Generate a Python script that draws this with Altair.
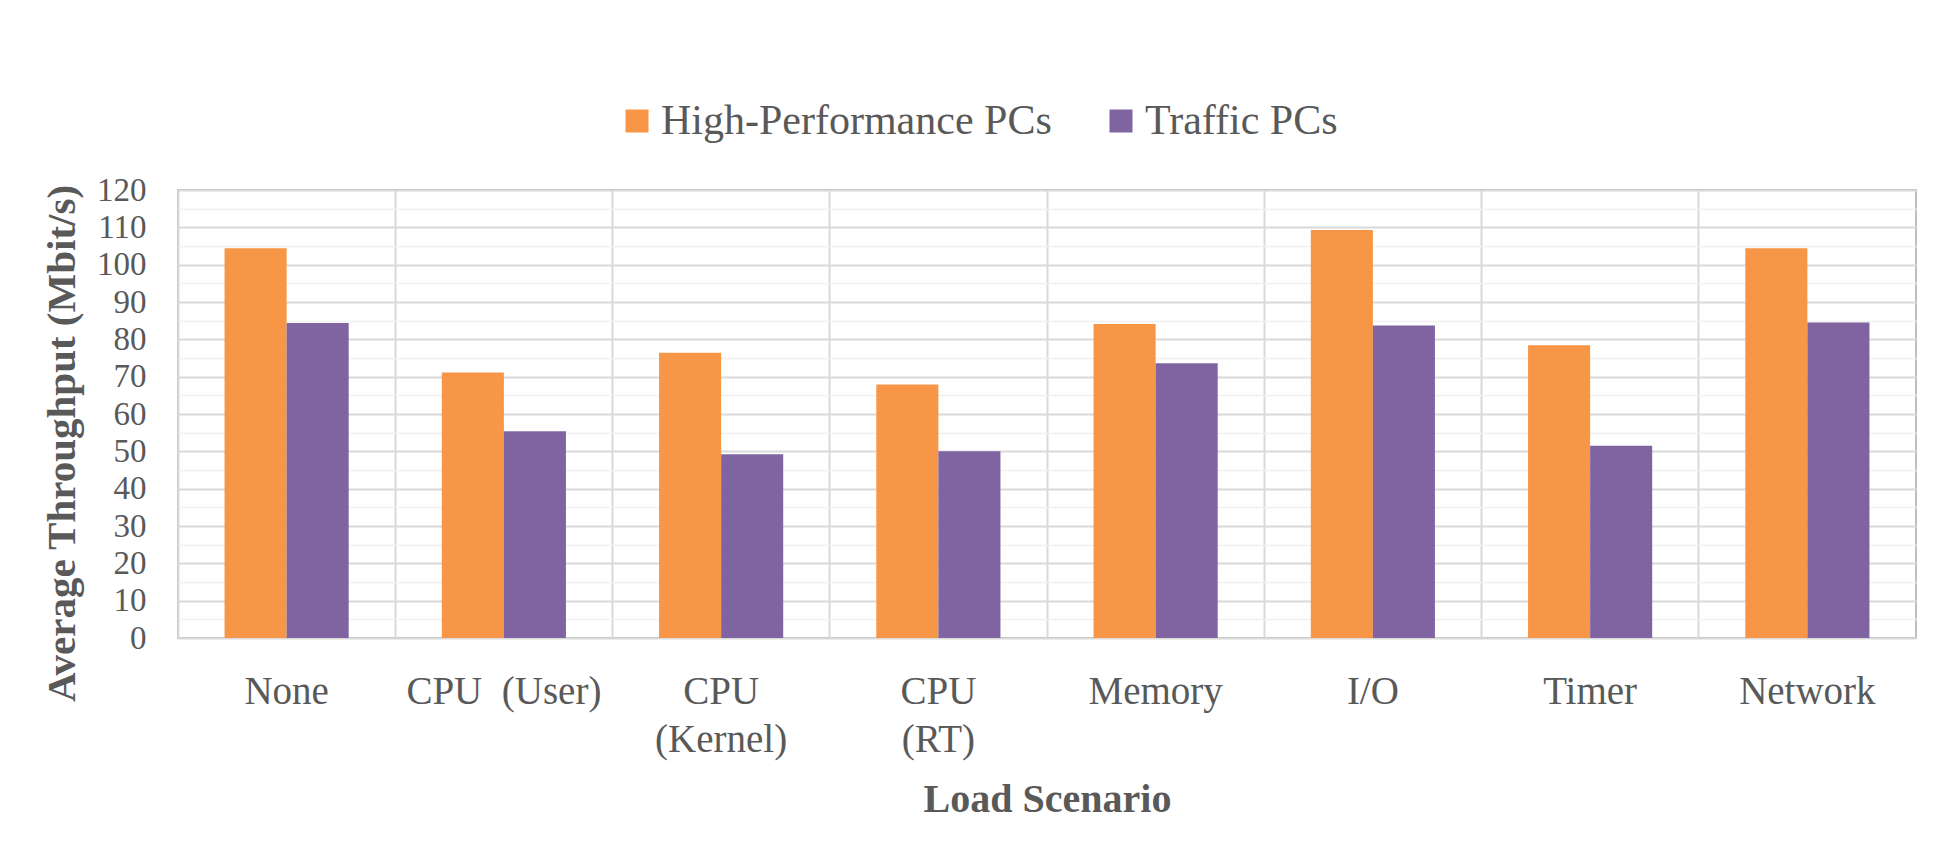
import altair as alt
import pandas as pd

scenarios = ["None", "CPU\u00a0 (User)", "CPU\n(Kernel)", "CPU\n(RT)", "Memory", "I/O", "Timer", "Network"]
hp_values = [104.4, 71.1, 76.4, 67.9, 84.1, 109.3, 78.4, 104.4]
traffic_values = [84.4, 55.4, 49.2, 50.0, 73.6, 83.7, 51.5, 84.5]
series_names = ["High-Performance PCs", "Traffic PCs"]
series_colors = ["#F79646", "#8064A2"]
y_tick_values = list(range(0, 121, 5))

rows = []
for s, a, b in zip(scenarios, hp_values, traffic_values):
    rows.append({"Scenario": s, "Series": series_names[0], "Value": a})
    rows.append({"Scenario": s, "Series": series_names[1], "Value": b})
df = pd.DataFrame(rows)

FONT = "'Liberation Serif', 'Times New Roman', Times, 'DejaVu Serif', serif"
TXT = "#595959"

chart = alt.Chart(df).mark_bar().encode(
    x=alt.X(
        "Scenario:N",
        sort=scenarios,
        scale=alt.Scale(paddingInner=0, paddingOuter=0),
        axis=alt.Axis(
            title="Load Scenario",
            labelAngle=0,
            labelExpr="split(datum.label, '\\n')",
            labelFont=FONT, labelFontSize=39, labelColor=TXT,
            labelLineHeight=48, labelPadding=34, labelLimit=1000,
            titleFont=FONT, titleFontSize=40, titleFontWeight="bold", titleColor=TXT,
            titlePadding=20,
            grid=True, bandPosition=0, gridColor="#d9d9d9", gridWidth=2,
            domain=False, ticks=False, tickSize=0,
        ),
    ),
    xOffset=alt.XOffset(
        "Series:N", sort=series_names,
        scale=alt.Scale(paddingInner=0, paddingOuter=0.75),
    ),
    y=alt.Y(
        "Value:Q",
        scale=alt.Scale(domain=[0, 120], nice=False),
        axis=alt.Axis(
            title="Average Throughput (Mbit/s)",
            values=y_tick_values,
            labelExpr="datum.value % 10 === 0 ? datum.label : ''",
            labelOverlap=False,
            labelFont=FONT, labelFontSize=33, labelColor=TXT, labelPadding=32,
            titleFont=FONT, titleFontSize=41, titleFontWeight="bold", titleColor=TXT,
            titleX=-104, titleY=253, titleBaseline="alphabetic", titleAlign="center",
            titleAngle=270,
            grid=True,
            gridColor={"condition": {"test": "datum.value % 10 === 0", "value": "#d9d9d9"}, "value": "#f0f0f0"},
            gridWidth={"condition": {"test": "datum.value % 10 === 0", "value": 2}, "value": 1.5},
            domain=False, ticks=False, tickSize=0,
        ),
    ),
    color=alt.Color(
        "Series:N",
        sort=series_names,
        scale=alt.Scale(domain=series_names, range=series_colors),
        legend=alt.Legend(
            title=None, orient="none", legendX=438, legendY=-90,
            direction="horizontal", symbolType="square", symbolSize=529,
            symbolStrokeWidth=0,
            labelFont=FONT, labelFontSize=42, labelColor=TXT, labelLimit=1000,
            labelOffset=3, columnPadding=48,
        ),
    ),
).properties(
    width=1738,
    height=448,
    padding={"left": 178, "top": 190, "right": 34, "bottom": 224},
    autosize=alt.AutoSizeParams(type="none"),
).configure_view(stroke="#bfbfbf", strokeWidth=2)

chart.save("out.html", embed_options={"renderer": "svg", "actions": False})
